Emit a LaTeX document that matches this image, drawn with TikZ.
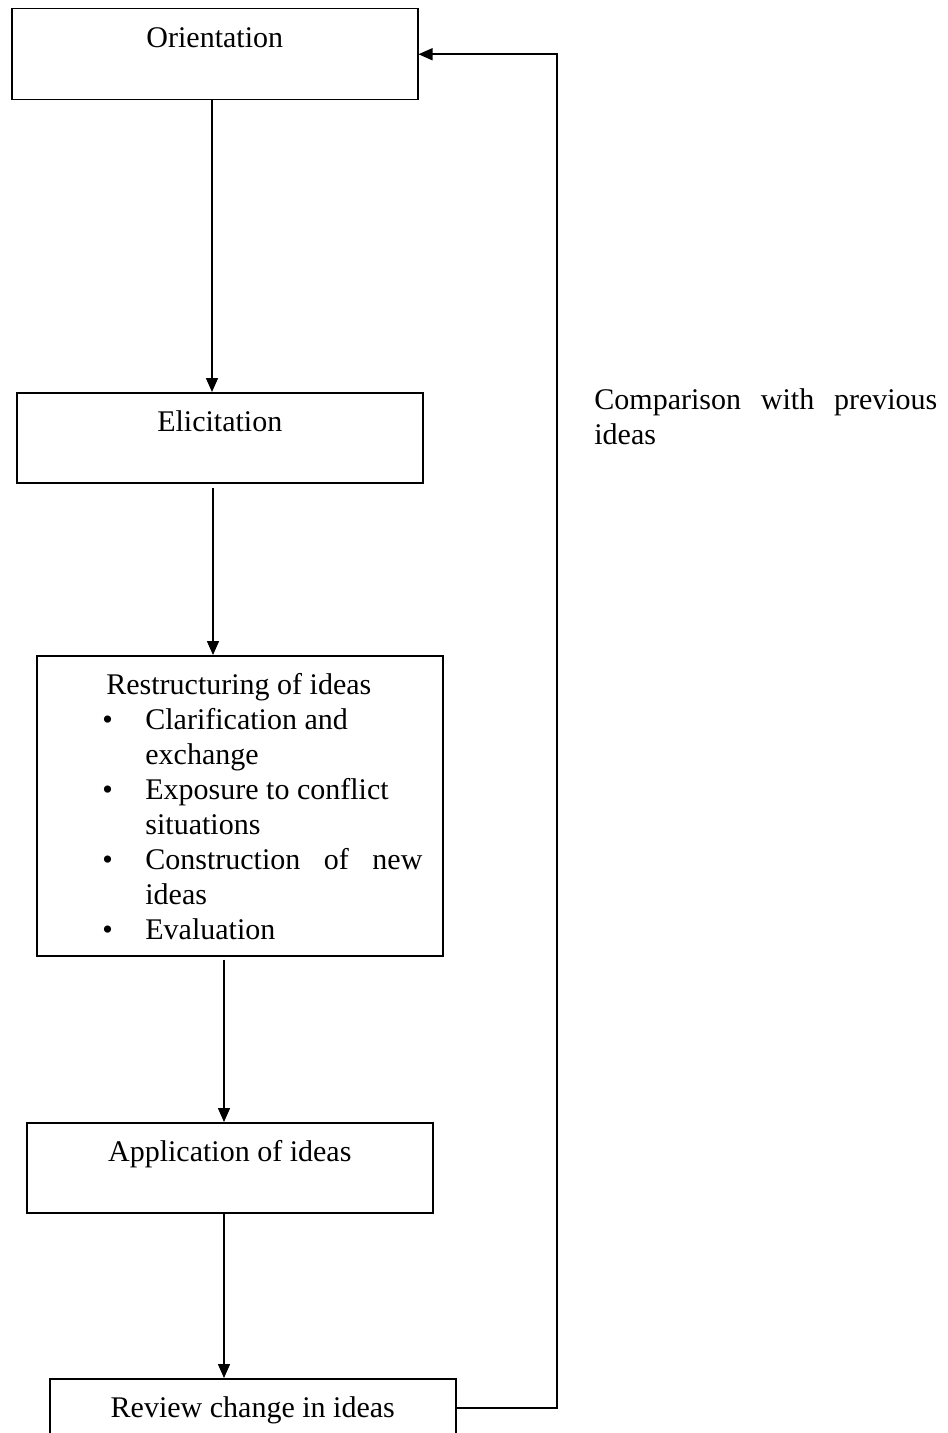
\documentclass[tikz,border=0pt]{standalone}
\usepackage{fontspec}
\setmainfont{Liberation Serif}
\usetikzlibrary{arrows.meta}
\begin{document}
\begin{tikzpicture}[x=0.5pt,y=-0.5pt,
  txt/.style={font=\fontsize{15}{17.5}\selectfont},
  box/.style={txt, draw, line width=0.75pt, inner sep=0pt, minimum width=203pt,
    anchor=north west, text height=19.5pt},
  plain/.style={txt, inner sep=0pt, anchor=base west},
  arr/.style={line width=0.75pt, -{Triangle[length=7pt,width=6pt]}}]
\useasboundingbox (0,0) rectangle (947,1433);
\clip (0,0) rectangle (947,1433);
\renewcommand{\arraystretch}{1}
\node[box, minimum height=45.5pt, text depth=26pt] (orient) at (11,8) {Orientation};
\node[box, minimum height=45pt, text depth=25.5pt] (elicit) at (16,392) {Elicitation};
\node[box, minimum height=150pt] (restr) at (36,655) {};
\node[box, minimum height=45pt, text depth=25.5pt] (apply) at (26,1122) {Application of ideas};
\node[box, minimum height=29pt, text depth=9.5pt] (review) at (49,1378) {Review change in ideas};
\node[plain] (restext) at (102,694) {\begin{tabular}[t]{@{}l@{}l@{}}
\multicolumn{2}{@{}l@{}}{\hspace*{2pt}Restructuring of ideas}\\
\makebox[21.5pt][l]{\textbullet} & Clarification and\\
 & exchange\\
\textbullet & Exposure to conflict\\
 & situations\\
\textbullet & \makebox[138.5pt][s]{Construction of new}\\
 & ideas\\
\textbullet & Evaluation
\end{tabular}};
\node[plain] (cmp) at (594,409) {\begin{tabular}[t]{@{}l@{}}
\makebox[171.5pt][s]{Comparison with previous}\\
ideas
\end{tabular}};
\coordinate (x1) at (212,0);
\coordinate (x2) at (213,0);
\coordinate (x3) at (224,0);
\coordinate (fb) at (557,700);
\draw[arr] (orient.south -| x1) -- (elicit.north -| x1);
\draw[arr, shorten <=2pt] (elicit.south -| x2) -- (restr.north -| x2);
\draw[arr, shorten <=1.5pt] (restr.south -| x3) -- (apply.north -| x3);
\draw[arr] (apply.south -| x3) -- (review.north -| x3);
\draw[arr] (review.east) -| (fb) |- (orient.east);
\end{tikzpicture}
\end{document}
